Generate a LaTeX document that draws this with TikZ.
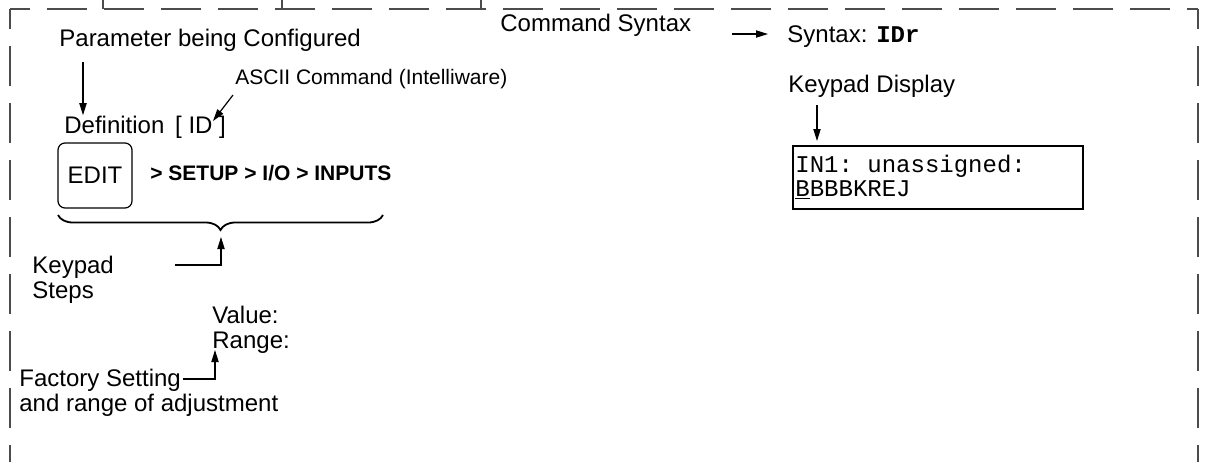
\documentclass[tikz,border=0pt]{standalone}
\usepackage{fontspec}
\setmainfont{Liberation Sans}
\setmonofont{Liberation Mono}
\usetikzlibrary{positioning,arrows.meta,decorations.pathreplacing}

\tikzset{
  lbl/.style={inner sep=0pt,anchor=base west,font=\fontsize{12}{12.5}\selectfont},
  smalllbl/.style={lbl,font=\fontsize{10.5}{12}\selectfont},
  arr/.style={-{Triangle[length=6pt,width=3.6pt]},line width=0.6pt},
  frame/.style={draw=black!70,line width=1.2pt,dash pattern=on 20pt off 8.5pt,dash phase=10pt},
  tick/.style={draw=black!70,line width=1.2pt},
  keybox/.style={draw,rounded corners=3.5pt,line width=0.6pt,minimum width=37pt,minimum height=32.5pt,inner sep=0pt,font=\fontsize{12}{14}\selectfont},
  dispbox/.style={draw,line width=0.9pt,minimum width=145pt,minimum height=31.5pt,inner sep=0pt,anchor=north west},
}

\begin{document}
\begin{tikzpicture}[x=0.5pt,y=-0.5pt]
  \useasboundingbox (0,0) rectangle (1206,462);
  % frame
  \draw[frame] (10,9) -- (1198,9);
  \draw[frame] (10,9) -- (10,462);
  \draw[frame] (1198,9) -- (1198,462);
  \foreach \x in {103,282,481}
    \draw[tick] (\x,0) -- (\x,9);

  % left column
  \node[lbl] (param) at (59,46) {Parameter being Configured};
  \node[smalllbl] (ascii) at (235,84) {ASCII Command (Intelliware)};
  \node[lbl] (defn) at (64,133) {Definition\hspace{0.45em}[ ID ]};
  \node[keybox] (edit) at (95,175.5) {EDIT};
  \node[smalllbl,font=\fontsize{10.5}{12}\selectfont\bfseries] (path) at (150,180) {> SETUP > I/O > INPUTS};
  \node[lbl] (keypad) at (32,273) {Keypad};
  \node[lbl] (steps) at (32,298) {Steps};
  \node[lbl] (value) at (212,323) {Value:};
  \node[lbl] (range) at (212,348) {Range:};
  \node[lbl] (factory) at (19,386) {Factory Setting};
  \node[lbl] (adjust) at (19,411) {and range of adjustment};

  % right column
  \node[lbl] (cmd) at (500,31) {Command Syntax};
  \node[lbl] (syntax) at (787,42) {Syntax: \texttt{\bfseries IDr}};
  \node[lbl] (kpd) at (788,92) {Keypad Display};
  \node[dispbox] (disp) at (792,145) {};
  \node[lbl,font=\fontsize{12}{12.5}\selectfont\ttfamily] (line1) at (795,172) {IN1: unassigned:};
  \node[lbl,font=\fontsize{12}{12.5}\selectfont\ttfamily] (line2) at (795,196) {\underline{B}BBBKREJ};

  % arrow ends
  \coordinate (pa) at (83,62);
  \coordinate (aa) at (233,95);
  \coordinate (idtip) at (213,121);
  \coordinate (bl) at (58,215);
  \coordinate (br) at (383,215);
  \coordinate (btip) at (221,237);
  \coordinate (ks) at (175,265);
  \coordinate (fs) at (183,379);
  \coordinate (rtip) at (215,350);
  \coordinate (cs) at (732,34);
  \coordinate (sy) at (768,34);
  \coordinate (kd) at (817,105);

  \draw[arr] (pa) -- (pa |- defn.north);
  \draw[arr] (aa) -- (idtip);
  \draw[line width=0.9pt,decorate,decoration={brace,mirror,amplitude=7.5pt}] (bl) -- (br);
  \draw[arr] (ks) -| (btip);
  \draw[arr] (fs) -| (rtip);
  \draw[arr] (cs) -- (sy);
  \draw[arr,shorten >=2pt] (kd) -- (kd |- disp.north);
\end{tikzpicture}
\end{document}
